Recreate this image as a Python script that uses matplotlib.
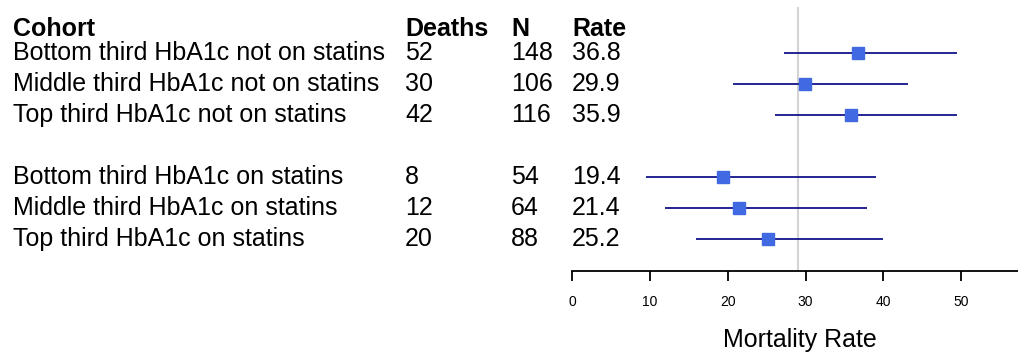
import matplotlib
matplotlib.use("Agg")
import matplotlib.pyplot as plt
import matplotlib.transforms as mtransforms

plt.rcParams['font.family'] = ['Liberation Sans', 'DejaVu Sans']

cohorts = [
    "Bottom third HbA1c not on statins",
    "Middle third HbA1c not on statins",
    "Top third HbA1c not on statins",
    "Bottom third HbA1c on statins",
    "Middle third HbA1c on statins",
    "Top third HbA1c on statins",
]
deaths = [52, 30, 42, 8, 12, 20]
n_patients = [148, 106, 116, 54, 64, 88]
rates = [36.8, 29.9, 35.9, 19.4, 21.4, 25.2]
ci_lower = [27.3, 20.7, 26.1, 9.5, 12.0, 15.9]
ci_upper = [49.4, 43.2, 49.4, 39.0, 37.9, 39.9]
overall_rate = 29.0
x_ticks = [0, 10, 20, 30, 40, 50]
headers = ["Cohort", "Deaths", "N", "Rate"]

# row slots: two groups of three with an empty slot between them
row_pos = [1, 2, 3, 5, 6, 7]

W, H = 1018, 354
fig = plt.figure(figsize=(W / 100, H / 100), dpi=100)
ax = fig.add_axes([572 / W, (H - 271) / H, (W - 572) / W, (271 - 7) / H])
ax.set_xlim(0, 57.3)
ax.set_ylim(8.02, -0.49)

ax.axvline(overall_rate, color="#d3d3d3", lw=1.5, zorder=1)
ax.hlines(row_pos, ci_lower, ci_upper, color="#14148c", lw=1.3, zorder=2)
ax.plot(rates, row_pos, ls="none", marker="s", ms=9, color="#4169e1",
        mec="#4169e1", zorder=3)

for side in ("top", "right", "left"):
    ax.spines[side].set_visible(False)
ax.spines["bottom"].set_linewidth(1.3)
ax.set_yticks([])
ax.set_xticks(x_ticks)
ax.tick_params(axis="x", direction="out", length=7, width=1.3, pad=10,
               labelsize=10)
ax.set_xlabel("Mortality Rate", fontsize=18, labelpad=14)
ax.xaxis.label.set_x(0.512)

# table columns placed in figure x, data y
trans = mtransforms.blended_transform_factory(fig.transFigure, ax.transData)
col_x = [13 / W, 405 / W, 511 / W, 572 / W]
fs = 18
header_y = 0.22
for x, h in zip(col_x, headers):
    ax.text(x, header_y, h, transform=trans, fontsize=fs, fontweight="bold",
            va="center", ha="left", clip_on=False)
for y, c, d, n, r in zip(row_pos, cohorts, deaths, n_patients, rates):
    vals = [c, str(d), str(n), f"{r:.1f}"]
    for x, v in zip(col_x, vals):
        ax.text(x, y, v, transform=trans, fontsize=fs, va="center",
                ha="left", clip_on=False)

fig.savefig("out.png", dpi=100)
